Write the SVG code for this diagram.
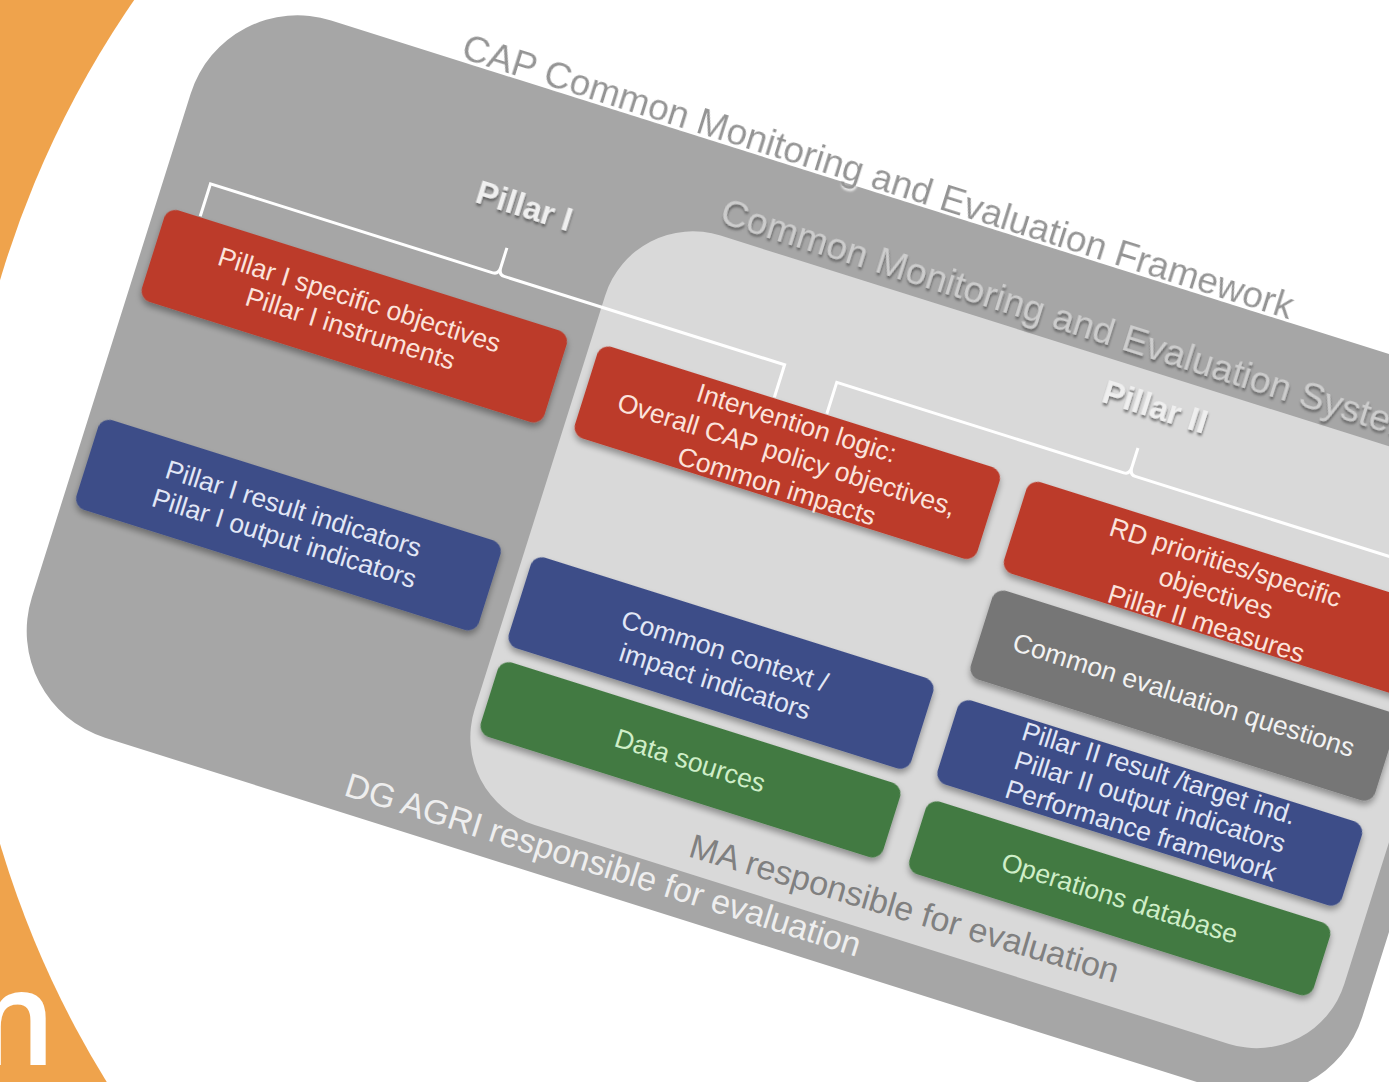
<svg xmlns="http://www.w3.org/2000/svg" width="1389" height="1082" viewBox="0 0 1389 1082">
<defs>
<filter id="bs" x="-10%" y="-20%" width="120%" height="160%"><feDropShadow dx="1" dy="4" stdDeviation="3" flood-color="#000" flood-opacity="0.35"/></filter>
<filter id="ts" x="-5%" y="-30%" width="110%" height="160%"><feDropShadow dx="1" dy="2.5" stdDeviation="1.2" flood-color="#444" flood-opacity="0.7"/></filter>
<filter id="tw" x="-5%" y="-30%" width="110%" height="160%"><feDropShadow dx="1" dy="2" stdDeviation="0.8" flood-color="#fff" flood-opacity="0.9"/></filter>
</defs>
<style>
text{font-family:"Liberation Sans",Arial,Helvetica,sans-serif}
.bt{font-size:26.5px;text-anchor:middle}
.r rect{fill:#bc3a29}
.r text{fill:#fbe3dc}
.b rect{fill:#3c4d88}
.b text{fill:#e2e7f6}
.g rect{fill:#437a42}
.g text{fill:#cfeec8}
.k rect{fill:#767676}
.k text{fill:#f2f2f2}
.box rect{filter:url(#bs)}
.pl{font-size:33px;font-weight:bold;fill:#efefef;text-anchor:middle;filter:url(#ts)}
.br{fill:none;stroke:#fff;stroke-width:3}
</style>
<rect x="0" y="0" width="1389" height="1082" fill="#EFA34C"/>
<circle cx="948" cy="562" r="989" fill="#ffffff"/>
<text x="-70" y="1065" style="font-family:'Open Sans',sans-serif;font-size:132px;font-weight:600;fill:#ffffff">m</text>
<g transform="rotate(17.5)">
<g id="cap-framework">
<rect x="210" y="-80" width="1395" height="752" rx="112" fill="#a6a6a6"/>
<text x="456" y="-83" style="font-size:37px;fill:#949494" filter="url(#tw)">CAP Common Monitoring and Evaluation Framework</text>
<text x="566" y="655" style="font-size:34px;fill:#eeeeee">DG AGRI responsible for evaluation</text>
</g>
<g id="cme-system">
<rect x="666" y="8" width="912" height="618" rx="92" fill="#d9d9d9"/>
<text x="752" y="-4" style="font-size:37.5px;fill:#cdcdcd" filter="url(#ts)">Common Monitoring and Evaluation System</text>
<text x="913" y="610" transform="rotate(-1 913 610)" style="font-size:34px;fill:#808080">MA responsible for evaluation</text>
</g>
<g id="connectors">
<path class="br" d="M256,146 V112 H552 Q558,112 558,104 V84 M558,104 Q558,112 564,112 H858 V146"/>
<path class="br" d="M913,146 V113 H1214 Q1220,113 1220,105 V85 M1220,105 Q1220,113 1226,113 H1527 V146"/>
</g>
<g id="pillar1-label"><text class="pl" x="562" y="50">Pillar I</text></g>
<g id="pillar2-label"><text class="pl" x="1224" y="52">Pillar II</text></g>
<g id="p1-objectives" class="box r">
<rect x="222" y="147" width="422" height="96" rx="12"/>
<text class="bt" x="433" y="187">Pillar I specific objectives</text>
<text class="bt" x="433" y="217">Pillar I instruments</text>
</g>
<g id="intervention-logic" class="box r">
<rect x="676" y="147" width="422" height="96" rx="12"/>
<text class="bt" x="887" y="173">Intervention logic:</text>
<text class="bt" x="887" y="206">Overall CAP policy objectives,</text>
<text class="bt" x="887" y="239">Common impacts</text>
</g>
<g id="rd-priorities" class="box r">
<rect x="1126" y="147" width="424" height="96" rx="12"/>
<text class="bt" x="1338" y="177">RD priorities/specific</text>
<text class="bt" x="1338" y="209">objectives</text>
<text class="bt" x="1338" y="241">Pillar II measures</text>
</g>
<g id="evaluation-questions" class="box k">
<rect x="1126" y="261" width="424" height="93" rx="12"/>
<text class="bt" x="1338" y="316">Common evaluation questions</text>
</g>
<g id="p1-indicators" class="box b">
<rect x="222" y="367" width="422" height="94" rx="12"/>
<text class="bt" x="433" y="406">Pillar I result indicators</text>
<text class="bt" x="433" y="437">Pillar I output indicators</text>
</g>
<g id="context-indicators" class="box b">
<rect x="676" y="368" width="422" height="95" rx="12"/>
<text class="bt" x="887" y="412">Common context /</text>
<text class="bt" x="887" y="444">impact indicators</text>
</g>
<g id="p2-indicators" class="box b">
<rect x="1126" y="376" width="424" height="88" rx="12"/>
<text class="bt" x="1338" y="398">Pillar II result /target ind.</text>
<text class="bt" x="1338" y="428">Pillar II output indicators</text>
<text class="bt" x="1338" y="458">Performance framework</text>
</g>
<g id="data-sources" class="box g">
<rect x="676" y="478" width="422" height="78" rx="12"/>
<text class="bt" x="887" y="527">Data sources</text>
</g>
<g id="operations-db" class="box g">
<rect x="1126" y="482" width="424" height="76" rx="12"/>
<text class="bt" x="1338" y="529">Operations database</text>
</g>
</g>
</svg>
